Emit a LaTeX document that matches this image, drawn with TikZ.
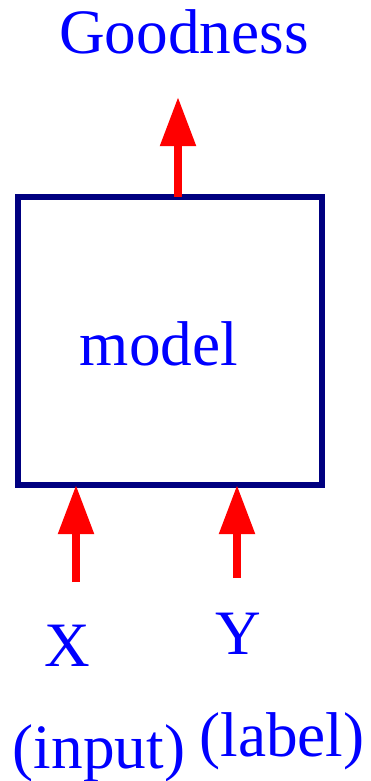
\documentclass[tikz,border=0pt]{standalone}
\usepackage{fontspec}
\setmainfont{Liberation Serif}
\usepackage{xcolor}
\usetikzlibrary{arrows.meta}
\definecolor{boxnavy}{RGB}{0,0,128}

\begin{document}
\begin{tikzpicture}[x=0.02cm, y=-0.02cm,
    lbl/.style={text=blue, font=\fontsize{36}{40}\selectfont, anchor=base, inner sep=0pt},
    redarrow/.style={red, line width=4.5pt, -{Triangle[length=28pt, width=19.5pt]}}]
    \useasboundingbox (0,0) rectangle (370,781);

    % Model box
    \node[draw=boxnavy, line width=3.4pt, minimum width=6.08cm, minimum height=5.76cm,
          outer sep=0pt, inner sep=0pt] (model) at (170,341) {};
    \node[lbl] (mlbl) at (159,365) {model};

    % Output
    \node[lbl] (good) at (184,53) {Goodness};
    \coordinate (gtip) at (178,97);
    \draw[redarrow] (gtip |- model.north) -- (gtip);

    % Inputs
    \coordinate (xin) at (76,582);
    \coordinate (yin) at (237,578);
    \foreach \c in {xin, yin} {
        \draw[redarrow] (\c) -- (\c |- model.south);
    }
    \node[lbl] (xlbl) at (67,666) {X};
    \node[lbl] (ylbl) at (238,654) {Y};
    \node[lbl] (xnote) at (99,768) {(input)};
    \node[lbl] (ynote) at (282,756) {(label)};
\end{tikzpicture}
\end{document}
